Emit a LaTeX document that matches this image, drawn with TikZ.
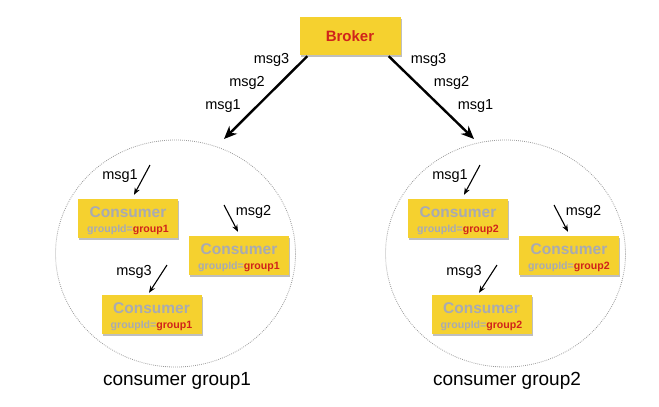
\documentclass[tikz,border=0pt]{standalone}
\usepackage{fontspec}
\setmainfont{Liberation Sans}
\usetikzlibrary{arrows.meta,shadows,shapes.geometric}
\definecolor{boxyellow}{HTML}{F5D12F}
\definecolor{txtgray}{HTML}{A8AAB3}
\definecolor{txtred}{HTML}{D0231B}
\definecolor{ringgray}{HTML}{999999}
\tikzset{
  box/.style={rectangle, fill=boxyellow, inner sep=0pt,
    drop shadow={shadow xshift=1pt, shadow yshift=-1.5pt, fill=black, opacity=0.25}},
  brokerbox/.style={box, minimum width=101pt, minimum height=38pt,
    font=\fontsize{15}{16}\selectfont\bfseries, text=txtred},
  consumerbox/.style={box, minimum width=100pt, minimum height=39pt, align=center,
    text=txtgray, font=\bfseries\fontsize{10.6}{15}\selectfont},
  msglabel/.style={inner sep=0pt, font=\fontsize{14.5}{16}\selectfont},
  caption/.style={inner sep=0pt, font=\fontsize{19}{22}\selectfont},
  ring/.style={ellipse, draw=ringgray, line width=0.8pt,
    dash pattern=on 0.8pt off 1.2pt, minimum width=240pt, minimum height=227pt, inner sep=0pt},
  bigarrow/.style={line width=2.4pt, -{Stealth[length=13pt,width=11pt]}},
  smallarrow/.style={line width=1.1pt, -{Stealth[length=7pt,width=5.5pt]}},
}
\newcommand{\consumertext}[1]{\rule{0pt}{14.5pt}{\fontsize{15.5}{15}\selectfont Consumer}\\ groupId=\textcolor{txtred}{#1}}
\begin{document}
\begin{tikzpicture}[x=1pt,y=-1pt]
\useasboundingbox (0,0) rectangle (659,407);
\fill[white] (0,0) rectangle (659,407);

% group rings
\node[ring] (g1) at (175.5,253.5) {};
\node[ring] (g2) at (505.5,253.5) {};
\node[caption] (cap1) at (177,381) {consumer group1};
\node[caption] (cap2) at (507,381) {consumer group2};

% broker
\node[brokerbox] (broker) at (350,36) {Broker};

% consumers group 1
\node[consumerbox] (c11) at (128,218.5) {\consumertext{group1}};
\node[consumerbox] (c12) at (239,255.5) {\consumertext{group1}};
\node[consumerbox] (c13) at (151.5,314.5) {\consumertext{group1}};
% consumers group 2
\node[consumerbox] (c21) at (458,218.5) {\consumertext{group2}};
\node[consumerbox] (c22) at (569,255.5) {\consumertext{group2}};
\node[consumerbox] (c23) at (481.5,314.5) {\consumertext{group2}};

% broker arrows
\coordinate (t1) at (224,139);
\coordinate (t2) at (474,139);
\draw[bigarrow] ([xshift=8pt,yshift=-1pt]broker.south west) -- (t1);
\draw[bigarrow] ([xshift=-12pt,yshift=-1pt]broker.south east) -- (t2);
\node[msglabel] (l13) at (271.5,60) {msg3};
\node[msglabel] (l12) at (247,83) {msg2};
\node[msglabel] (l11) at (223,106) {msg1};
\node[msglabel] (r13) at (428.5,60) {msg3};
\node[msglabel] (r12) at (451.5,83) {msg2};
\node[msglabel] (r11) at (475.5,106) {msg1};

% inner arrows group 1
\coordinate (s11) at (150,165);
\coordinate (s12) at (224,205);
\coordinate (s13) at (167,265);
\draw[smallarrow] (s11) -- ([xshift=6pt,yshift=4pt]c11.north);
\draw[smallarrow] (s12) -- ([xshift=-1pt,yshift=4pt]c12.north);
\draw[smallarrow] (s13) -- ([xshift=-2.5pt,yshift=2pt]c13.north);
\node[msglabel] (m11) at (120,176) {msg1};
\node[msglabel] (m12) at (253.5,212) {msg2};
\node[msglabel] (m13) at (134,272) {msg3};

% inner arrows group 2
\coordinate (s21) at (480,165);
\coordinate (s22) at (554,205);
\coordinate (s23) at (497,265);
\draw[smallarrow] (s21) -- ([xshift=6pt,yshift=4pt]c21.north);
\draw[smallarrow] (s22) -- ([xshift=-1pt,yshift=4pt]c22.north);
\draw[smallarrow] (s23) -- ([xshift=-2.5pt,yshift=2pt]c23.north);
\node[msglabel] (m21) at (450,176) {msg1};
\node[msglabel] (m22) at (583.5,212) {msg2};
\node[msglabel] (m23) at (464,272) {msg3};
\end{tikzpicture}
\end{document}
